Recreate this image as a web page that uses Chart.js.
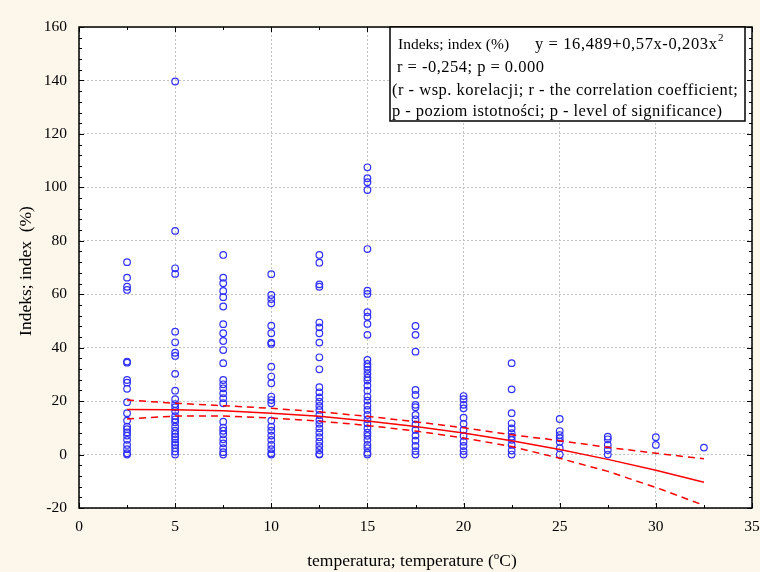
<!DOCTYPE html>
<html>
<head>
<meta charset="utf-8">
<script src="https://cdn.jsdelivr.net/npm/chart.js@4"></script>
<style>
  body { margin: 0; background: #fcf7ea; }
  canvas { display: block; }
</style>
</head>
<body>
<canvas id="myChart" width="760" height="572"></canvas>
<script>
const ctx = document.getElementById('myChart');

// temperature classes (x) and index values
const temps = [2.5, 5, 7.5, 10, 12.5, 15, 17.5, 20, 22.5, 25, 27.5, 30, 32.5]

const t2_5 = [72, 66.2, 62.8, 61.6, 34.8, 34.4, 27.9, 26.9, 24.6, 19.6, 15.5, 12.7, 10.4, 9.5, 8.3, 7.1, 5.5, 3.6, 2, 0.5, 0]
const t5 = [139.6, 83.7, 69.7, 67.6, 46, 42, 38.1, 36.9, 30.2, 23.9, 20.7, 18.9, 17.7, 16.3, 14.4, 13.2, 12.1, 10.4, 8.9, 7.7, 6.7, 5.7, 4.5, 3.6, 2.4, 1.1, 0]
const t7_5 = [74.7, 66.2, 64.1, 61.2, 58.9, 55.4, 48.8, 45.4, 42.5, 39.1, 34.2, 27.9, 26.3, 24.8, 22.9, 21.1, 19.2, 12.3, 10.1, 8.9, 7.6, 5.7, 4.2, 2.4, 0.9, 0]
const t10 = [67.5, 59.7, 58.2, 56.6, 48.2, 45.4, 41.9, 41.4, 32.9, 29.2, 26.7, 21.7, 20.4, 19.2, 12.7, 10.4, 8.9, 7.1, 5.5, 3.6, 2, 0.5, 0]
const t12_5 = [74.7, 71.8, 63.7, 62.8, 49.4, 47.6, 45.4, 41.9, 36.4, 31.9, 25.2, 23.3, 21.4, 19.8, 18.2, 16.7, 14.8, 12.9, 11.5, 9.8, 8.2, 6.5, 4.8, 3.2, 1.7, 0.2, 0]
const t15 = [107.5, 103.4, 101.9, 99, 76.9, 61.3, 60.1, 53.3, 51.6, 48.9, 44.8, 35.4, 33.9, 32.9, 31.7, 30.2, 28.8, 27.7, 25.8, 23.9, 21.7, 20.2, 18.3, 16.7, 14.8, 13.2, 11.7, 9.8, 8.2, 7, 5.5, 3.6, 2.4, 0.7, 0]
const t17_5 = [48.1, 44.8, 38.5, 24.2, 22.3, 18.6, 17.7, 14.8, 13.2, 11.3, 9.2, 7.1, 5.2, 3.2, 1.3, 0]
const t20 = [21.9, 20.7, 18.6, 17.3, 13.8, 11.5, 9.2, 7, 4.8, 3.2, 1.3, 0]
const t22_5 = [34.2, 24.4, 15.5, 11.7, 9.8, 8, 6.7, 5.5, 3.6, 1.5, 0]
const t25 = [13.3, 8.8, 7.3, 6.1, 4.8, 2.4, 0]
const t27_5 = [6.7, 5.7, 3.6, 1.7, 0]
const t30 = [6.5, 3.6]
const t32_5 = [2.6]

const columns = [t2_5, t5, t7_5, t10, t12_5, t15, t17_5, t20, t22_5, t25, t27_5, t30, t32_5]

// fitted curve and its confidence band, read at each temperature class
const fitLine = [16.9, 16.8, 16.4, 15.5, 14.3, 12.6, 10.5, 8.1, 5.2, 1.9, -1.8, -5.9, -10.4]
const ciUpper = [20.4, 19.2, 18.3, 17.3, 16.0, 14.3, 12.3, 10.0, 7.4, 5.2, 2.7, 0.5, -1.6]
const ciLower = [13.3, 14.4, 14.4, 13.7, 12.5, 10.9, 8.8, 6.2, 3.0, -1.4, -6.3, -12.3, -19.0]

const points = []
columns.forEach((col, i) => {
    col.forEach(v => points.push({x: temps[i], y: v}))
})
const toXY = arr => arr.map((v, i) => ({x: temps[i], y: v}))

const serif = '"Liberation Serif", "Times New Roman", serif'

// draws text stretched to a given width with letter spacing
function spacedText(c, txt, x, y, width) {
    c.letterSpacing = '0px'
    const w = c.measureText(txt).width
    const extra = (width - w) / Math.max(1, txt.length - 1)
    c.letterSpacing = extra.toFixed(2) + 'px'
    c.fillText(txt, x, y)
    c.letterSpacing = '0px'
}

// background, frame, inward ticks, titles and the text box
const decor = {
    id: 'decor',
    beforeDraw(chart) {
        const c = chart.ctx, a = chart.chartArea
        c.save()
        c.fillStyle = '#fcf7ea'
        c.fillRect(0, 0, chart.width, chart.height)
        c.fillStyle = '#ffffff'
        c.fillRect(a.left, a.top, a.right - a.left, a.bottom - a.top)
        c.restore()
    },
    afterDraw(chart) {
        const c = chart.ctx, a = chart.chartArea
        const xs = chart.scales.x, ys = chart.scales.y
        c.save()
        c.strokeStyle = '#000'
        c.lineWidth = 1
        c.setLineDash([])
        // ticks
        c.beginPath()
        for (let v = 0; v <= 35; v += 2.5) {
            const px = Math.round(xs.getPixelForValue(v)) + 0.5
            const len = (v % 5 === 0) ? 5 : 3
            c.moveTo(px, a.bottom); c.lineTo(px, a.bottom - len)
            c.moveTo(px, a.top); c.lineTo(px, a.top + len)
        }
        for (let v = -20; v <= 160; v += 4) {
            const py = Math.round(ys.getPixelForValue(v)) + 0.5
            const len = (v % 20 === 0) ? 5 : 3
            c.moveTo(a.left, py); c.lineTo(a.left + len, py)
            c.moveTo(a.right, py); c.lineTo(a.right - len, py)
        }
        c.stroke()
        c.lineWidth = 1.5
        c.strokeRect(a.left, a.top, a.right - a.left, a.bottom - a.top)

        // axis titles
        c.fillStyle = '#000'
        c.textBaseline = 'alphabetic'
        const big = '17.5px ' + serif, small = '11px ' + serif
        const xt1 = 'temperatura; temperature (', xt2 = 'o', xt3 = 'C)'
        c.font = big
        const w1 = c.measureText(xt1).width, w3 = c.measureText(xt3).width
        c.font = small
        const w2 = c.measureText(xt2).width
        let x0 = 412 - (w1 + w2 + w3) / 2
        const by = 566
        c.font = big
        c.fillText(xt1, x0, by)
        c.font = small
        c.fillText(xt2, x0 + w1, by - 7)
        c.font = big
        c.fillText(xt3, x0 + w1 + w2, by)

        c.save()
        c.translate(31, 271)
        c.rotate(-Math.PI / 2)
        c.textAlign = 'center'
        c.font = '17.5px ' + serif
        c.fillText('Indeks; index  (%)', 0, 0)
        c.restore()

        // statistics box
        const bx = 390, bt = 27, bw = 355, bh = 94
        c.fillStyle = '#fff'
        c.fillRect(bx, bt, bw, bh)
        c.lineWidth = 1.5
        c.strokeRect(bx, bt, bw, bh)
        c.fillStyle = '#000'
        c.font = '15.5px ' + serif
        c.fillText('Indeks; index (%)', 398, 49)
        c.font = '16.5px ' + serif
        spacedText(c, 'y = 16,489+0,57x-0,203x', 535, 49, 182)
        c.font = '11px ' + serif
        c.fillText('2', 718, 41)
        c.font = '16.5px ' + serif
        spacedText(c, 'r = -0,254; p = 0.000', 397, 72, 147)
        spacedText(c, '(r - wsp. korelacji; r - the correlation coefficient;', 392, 95, 346)
        spacedText(c, 'p - poziom istotności; p - level of significance)', 392, 116, 330)
        c.restore()
    }
}

let chart_1 = new Chart(ctx, {
    type: 'scatter',
    data: {
        datasets: [{
            label: 'Indeks; index (%)',
            data: points,
            showLine: false,
            pointStyle: 'circle',
            pointRadius: 3.3,
            pointBorderWidth: 1.2,
            borderColor: '#3030ff',
            backgroundColor: 'rgba(0,0,0,0)',
            order: 2
        }, {
            label: 'fit',
            data: toXY(fitLine),
            showLine: true,
            pointRadius: 0,
            borderColor: '#ff0000',
            borderWidth: 1.5,
            order: 1
        }, {
            label: 'upper',
            data: toXY(ciUpper),
            showLine: true,
            pointRadius: 0,
            borderColor: '#ff0000',
            borderWidth: 1.5,
            borderDash: [7, 5],
            order: 1
        }, {
            label: 'lower',
            data: toXY(ciLower),
            showLine: true,
            pointRadius: 0,
            borderColor: '#ff0000',
            borderWidth: 1.5,
            borderDash: [7, 5],
            order: 1
        }]
    },
    options: {
        responsive: false,
        animation: false,
        layout: { padding: { left: 0, top: 27, right: 8, bottom: 0 } },
        plugins: {
            legend: { display: false },
            tooltip: { enabled: false }
        },
        scales: {
            x: {
                type: 'linear',
                min: 0, max: 35,
                afterFit(scale) {
                    scale.height = 64
                    scale.paddingLeft = 0
                    scale.paddingRight = 0
                },
                ticks: { stepSize: 5, color: '#000', padding: 10, maxRotation: 0, font: { family: serif, size: 15.5 } },
                grid: { color: '#c4c4c4', drawTicks: false },
                border: { display: false, dash: [2, 2] }
            },
            y: {
                min: -20, max: 160,
                afterFit(scale) {
                    scale.width = 79
                    scale.paddingTop = 0
                    scale.paddingBottom = 0
                },
                ticks: { stepSize: 20, color: '#000', padding: 12, font: { family: serif, size: 15.5 } },
                grid: { color: '#c4c4c4', drawTicks: false },
                border: { display: false, dash: [2, 2] }
            }
        }
    },
    plugins: [decor]
});
</script>
</body>
</html>
